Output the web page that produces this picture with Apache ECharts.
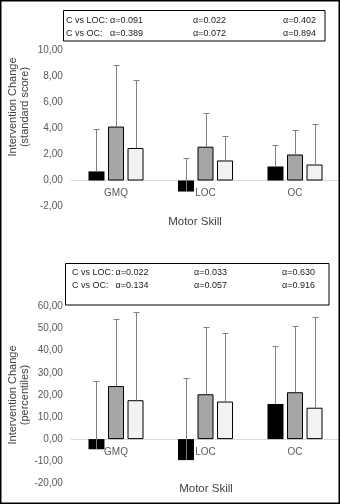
<!DOCTYPE html>
<html>
<head>
<meta charset="utf-8">
<script src="https://cdn.jsdelivr.net/npm/echarts@6/dist/echarts.min.js"></script>
<style>
html,body{margin:0;padding:0;background:#fff;}
#c{width:340px;height:504px;}
</style>
</head>
<body>
<div id="c"></div>
<script>
// ---- data ----
const categories = ['GMQ', 'LOC', 'OC'];

// top panel: standard score change (mean and SD)
const stdC    = [0.70, -0.85, 1.08];
const stdLOC  = [4.15, 2.60, 2.00];
const stdOC   = [2.50, 1.54, 1.23];
const stdC_sd   = [3.30, 2.60, 1.62];
const stdLOC_sd = [4.75, 2.58, 1.90];
const stdOC_sd  = [5.25, 1.92, 3.13];

// bottom panel: percentile change (mean and SD)
const pctC    = [-4.6, -9.5, 15.9];
const pctLOC  = [24.0, 20.3, 21.2];
const pctOC   = [17.6, 17.0, 14.2];
const pctC_sd   = [30.9, 37.0, 26.3];
const pctLOC_sd = [30.2, 30.2, 30.1];
const pctOC_sd  = [40.0, 30.8, 40.9];

// statistics boxes
const statRows = ['C vs LOC:', 'C vs OC:'];
const topAlphaLOC = ['α=0.091', 'α=0.022', 'α=0.402'];
const topAlphaOC  = ['α=0.389', 'α=0.072', 'α=0.894'];
const botAlphaLOC = ['α=0.022', 'α=0.033', 'α=0.630'];
const botAlphaOC  = ['α=0.134', 'α=0.057', 'α=0.916'];

const topTicks = {min: -2, max: 10, interval: 2};
const botTicks = {min: -20, max: 60, interval: 10};

const yTitleTop = 'Intervention Change\n(standard score)';
const yTitleBot = 'Intervention Change\n(percentiles)';
const xTitle = 'Motor Skill';

// ---- styles ----
const FONT = '"Liberation Sans", Arial, sans-serif';
const BAR_W = 16;
const GAP = 0.22;
const barColors = ['#000000', '#a6a6a6', '#f2f2f2'];
const errColor = '#808080';

const grids = [
  {left: 71.25, width: 268.5, top: 50.5, height: 156},
  {left: 71.25, width: 268.5, top: 306.5, height: 176.8}
];

const chart = echarts.init(document.getElementById('c'), null, {renderer: 'canvas'});

function fmt(v) { return v.toFixed(2).replace('.', ','); }

function barSeries(data, idx, g) {
  return {
    type: 'bar', xAxisIndex: g, yAxisIndex: g, data: data,
    barWidth: BAR_W, barGap: (GAP * 100) + '%',
    itemStyle: {color: barColors[idx], borderColor: '#000', borderWidth: idx === 0 ? 0 : 1},
    silent: true, z: 2
  };
}

function errSeries(vals, sds, idx, g) {
  return {
    type: 'custom', xAxisIndex: g, yAxisIndex: g, z: 5, silent: true,
    data: vals.map((v, i) => [i, v, v + sds[i]]),
    encode: {x: 0, y: [1, 2]},
    renderItem: function (params, api) {
      const c = api.value(0);
      const p0 = api.coord([c, api.value(1)]);
      const p1 = api.coord([c, api.value(2)]);
      const off = (idx - 1) * BAR_W * (1 + GAP);
      const x = Math.round(p0[0] + off) + 0.5;
      const yTop = Math.round(p1[1]) + 0.5;
      return {
        type: 'group',
        children: [
          {type: 'line', shape: {x1: x, y1: p0[1], x2: x, y2: yTop}, style: {stroke: errColor, lineWidth: 1}},
          {type: 'line', shape: {x1: x - 3, y1: yTop, x2: x + 3, y2: yTop}, style: {stroke: errColor, lineWidth: 1}}
        ]
      };
    }
  };
}

// place the category axis on the zero line by offsetting it from the grid bottom
function zeroOffset(g, t) {
  const gr = grids[g];
  const zeroY = gr.top + gr.height * (t.max / (t.max - t.min));
  return zeroY - (gr.top + gr.height);
}

function xAxisDef(g, t) {
  return {
    type: 'category', gridIndex: g, data: categories, position: 'bottom',
    offset: zeroOffset(g, t),
    axisTick: {show: false},
    axisLine: {onZero: false, lineStyle: {color: '#d9d9d9', width: 1}},
    axisLabel: {color: '#595959', fontFamily: FONT, fontSize: 10, margin: 8}
  };
}
function yAxisDef(g, t) {
  return {
    type: 'value', gridIndex: g, min: t.min, max: t.max, interval: t.interval,
    axisLine: {show: false}, axisTick: {show: false}, splitLine: {show: false},
    axisLabel: {color: '#595959', fontFamily: FONT, fontSize: 10, margin: 8.5, formatter: fmt}
  };
}

function statBox(x, y, w, h, labelX, a1X, a2X, a3X, row1Y, row2Y, rowA, rowB) {
  const els = [{type: 'rect', shape: {x: x, y: y, width: w, height: h}, style: {fill: '#fff', stroke: '#000', lineWidth: 1}, z: 10}];
  const rows = [[row1Y, statRows[0], rowA], [row2Y, statRows[1], rowB]];
  rows.forEach(r => {
    const ts = (tx, txt) => ({type: 'text', x: tx, y: r[0], z: 11,
      style: {text: txt, fill: '#222', font: '9px ' + FONT, align: 'left', verticalAlign: 'middle'}});
    els.push(ts(labelX, r[1]));
    els.push(ts(a1X, r[2][0]));
    els.push(ts(a2X, r[2][1]));
    els.push(ts(a3X, r[2][2]));
  });
  return els;
}

function yTitle(cx, cy, txt) {
  return {type: 'text', x: cx, y: cy, rotation: Math.PI / 2, z: 10,
    style: {text: txt, fill: '#404040', font: '11px ' + FONT, align: 'center', verticalAlign: 'middle', lineHeight: 12}};
}
function xTitleEl(cx, cy) {
  return {type: 'text', x: cx, y: cy, z: 10,
    style: {text: xTitle, fill: '#404040', font: '11.5px ' + FONT, align: 'center', verticalAlign: 'middle'}};
}

const graphics = [
  {type: 'rect', shape: {x: 0.75, y: 0.75, width: 338.5, height: 502.5}, style: {fill: 'none', stroke: '#000', lineWidth: 1.5}, z: 20}
].concat(
  statBox(63.5, 10.5, 261.5, 30.5, 66, 110, 193, 283, 20.7, 33.3, topAlphaLOC, topAlphaOC),
  statBox(65.5, 263.5, 263.5, 41.5, 72, 115.5, 194, 282, 272.7, 286, botAlphaLOC, botAlphaOC),
  [yTitle(19, 107, yTitleTop), yTitle(19, 395, yTitleBot), xTitleEl(195, 221.7), xTitleEl(206, 489.3)]
);

chart.setOption({
  animation: false,
  backgroundColor: '#fff',
  textStyle: {fontFamily: FONT},
  grid: grids,
  xAxis: [xAxisDef(0, topTicks), xAxisDef(1, botTicks)],
  yAxis: [yAxisDef(0, topTicks), yAxisDef(1, botTicks)],
  series: [
    barSeries(stdC, 0, 0), barSeries(stdLOC, 1, 0), barSeries(stdOC, 2, 0),
    errSeries(stdC, stdC_sd, 0, 0), errSeries(stdLOC, stdLOC_sd, 1, 0), errSeries(stdOC, stdOC_sd, 2, 0),
    barSeries(pctC, 0, 1), barSeries(pctLOC, 1, 1), barSeries(pctOC, 2, 1),
    errSeries(pctC, pctC_sd, 0, 1), errSeries(pctLOC, pctLOC_sd, 1, 1), errSeries(pctOC, pctOC_sd, 2, 1)
  ],
  graphic: graphics
});
</script>
</body>
</html>
